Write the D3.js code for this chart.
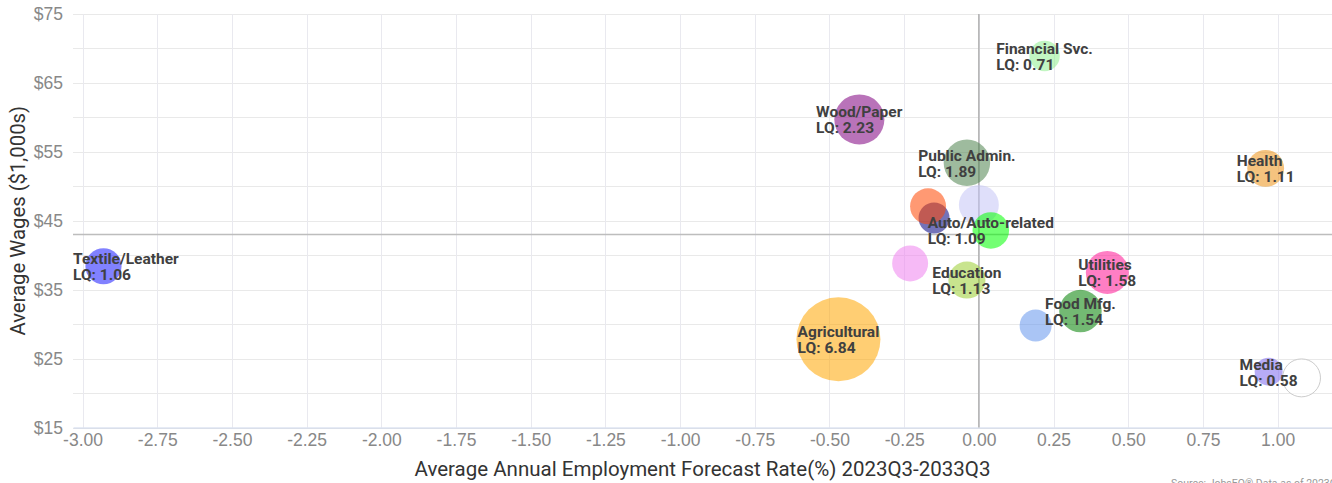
<!DOCTYPE html>
<html>
<head>
<meta charset="utf-8">
<script src="https://cdn.jsdelivr.net/npm/d3@7"></script>
<style>
  body { margin: 0; background: #fff; }
  svg { display: block; font-family: Roboto, "Noto Sans", sans-serif; }
</style>
</head>
<body>
<svg id="chart" width="1332" height="483"></svg>
<script>
// industry bubbles: x = forecast rate (%), y = avg wage ($1,000s), size = LQ
var sectors = ['Textile/Leather', 'Financial Svc.', 'Wood/Paper', 'Public Admin.', 'Health',
  'Machinery', 'Chemicals', 'Retail', 'Auto/Auto-related', 'Construction',
  'Education', 'Utilities', 'Food Mfg.', 'Transportation', 'Agricultural', 'Media', 'Other'];
var forecastRate = [-2.93, 0.22, -0.40, -0.04, 0.96, -0.15, -0.17, 0.00, 0.04, -0.23,
  -0.04, 0.43, 0.34, 0.19, -0.47, 0.97, 1.08];
var avgWage = [38.4, 68.9, 59.7, 53.4, 52.6, 45.4, 47.1, 47.3, 43.6, 38.8,
  36.4, 37.5, 31.9, 29.8, 27.8, 23.1, 22.2];
var lq = [1.06, 0.71, 2.23, 1.89, 1.11, 0.74, 1.05, 1.34, 1.09, 1.05,
  1.13, 1.58, 1.54, 0.80, 6.84, 0.58, 1.19];
var showLabel = [true, true, true, true, true, false, false, false, true, false,
  true, true, true, false, true, true, false];
var colors = ['#1a1aff', '#90ee90', '#800080', '#4f834f', '#ed9115', '#000080', '#ff4500',
  '#c4c4f5', '#00ff00', '#ee82ee', '#9acd32', '#ff1493', '#008000', '#6495ed', '#ffa500',
  '#7b68ee', '#ffffff'];

var xTicks = [-3, -2.75, -2.5, -2.25, -2, -1.75, -1.5, -1.25, -1, -0.75, -0.5, -0.25, 0, 0.25, 0.5, 0.75, 1];
var yTicks = [15, 25, 35, 45, 55, 65, 75];
var yGrid = [15, 20, 25, 30, 35, 40, 45, 50, 55, 60, 65, 70, 75];
var avgWageLine = 43.0;
var avgRateLine = 0.0;

var svg = d3.select('#chart'),
    pLeft = 73, pRight = 1332, pTop = 14, pBottom = 427.5;

var x = d3.scaleLinear().domain([-3.032, 1.182]).range([pLeft, pRight]);
var y = d3.scaleLinear().domain([15, 75]).range([pBottom, pTop]);
var r = d3.scaleLinear().domain([Math.sqrt(0.58), Math.sqrt(6.84)]).range([14, 42]);

// grid
svg.append('g').selectAll('line').data(yGrid).enter().append('line')
    .attr('x1', pLeft).attr('x2', pRight)
    .attr('y1', function(d) { return Math.round(y(d)) + 0.5; })
    .attr('y2', function(d) { return Math.round(y(d)) + 0.5; })
    .attr('stroke', '#e9e9e9');

svg.append('g').selectAll('line').data(xTicks).enter().append('line')
    .attr('x1', function(d) { return Math.round(x(d)) + 0.5; })
    .attr('x2', function(d) { return Math.round(x(d)) + 0.5; })
    .attr('y1', pTop).attr('y2', pBottom)
    .attr('stroke', '#e9e9ef');

// axes
var xAxis = svg.append('g')
    .attr('transform', 'translate(0,' + pBottom + ')')
    .call(d3.axisBottom(x).tickValues(xTicks).tickSize(0).tickPadding(6)
      .tickFormat(function(d) { return d.toFixed(2); }));
xAxis.select('.domain').attr('stroke', '#ccd6eb');
xAxis.selectAll('text').attr('fill', '#888').style('font-size', '17.5px');

var yAxis = svg.append('g')
    .attr('transform', 'translate(' + pLeft + ',0)')
    .call(d3.axisLeft(y).tickValues(yTicks).tickSize(0).tickPadding(10)
      .tickFormat(function(d) { return '$' + d; }));
yAxis.select('.domain').remove();
yAxis.selectAll('text').attr('fill', '#888').style('font-size', '17.5px');

svg.append('text')
    .attr('transform', 'translate(25,' + ((pTop + pBottom) / 2) + ') rotate(-90)')
    .attr('text-anchor', 'middle')
    .attr('fill', '#333').style('font-size', '20.3px')
    .text('Average Wages ($1,000s)');

svg.append('text')
    .attr('x', (pLeft + pRight) / 2).attr('y', 476)
    .attr('text-anchor', 'middle')
    .attr('fill', '#333').style('font-size', '20.5px')
    .text('Average Annual Employment Forecast Rate(%) 2023Q3-2033Q3');

// reference lines
svg.append('line')
    .attr('x1', pLeft).attr('x2', pRight)
    .attr('y1', y(avgWageLine)).attr('y2', y(avgWageLine))
    .attr('stroke', '#bdbdbd').attr('stroke-width', 1.5);
svg.append('line')
    .attr('x1', x(avgRateLine)).attr('x2', x(avgRateLine))
    .attr('y1', pTop).attr('y2', pBottom)
    .attr('stroke', '#b0b0b0').attr('stroke-width', 1.5);

// bubbles
var data = sectors.map(function(s, i) {
  return {name: s, rate: forecastRate[i], wage: avgWage[i], lq: lq[i], label: showLabel[i], color: colors[i]};
});

svg.append('g').selectAll('circle').data(data).enter().append('circle')
    .attr('cx', function(d) { return x(d.rate); })
    .attr('cy', function(d) { return y(d.wage); })
    .attr('r', function(d) { return r(Math.sqrt(d.lq)); })
    .attr('fill', function(d) { return d.color; })
    .attr('fill-opacity', function(d) { return d.color == '#ffffff' ? 0.6 : 0.55; })
    .attr('stroke', function(d) { return d.color == '#ffffff' ? '#cccccc' : 'none'; });

// labels
var labels = svg.append('g').selectAll('text').data(data.filter(function(d) { return d.label; }))
  .enter().append('text')
    .attr('fill', '#404040')
    .style('font-size', '15.5px').style('font-weight', 'bold');
labels.append('tspan').attr('x', 0).attr('y', -2).text(function(d) { return d.name; });
labels.append('tspan').attr('x', 0).attr('y', 14).text(function(d) { return 'LQ: ' + d.lq.toFixed(2); });
labels.each(function(d) {
  var w = this.getBBox().width;
  var lx = x(d.rate) - w / 2;
  if (lx < pLeft) lx = pLeft;
  if (lx + w > pRight) lx = pRight - w;
  d3.select(this).attr('transform', 'translate(' + lx + ',' + y(d.wage) + ')');
});

svg.append('text')
    .attr('x', 1171).attr('y', 487)
    .attr('fill', '#999').style('font-size', '10.5px')
    .text('Source: JobsEQ® Data as of 2023Q3');
</script>
</body>
</html>
